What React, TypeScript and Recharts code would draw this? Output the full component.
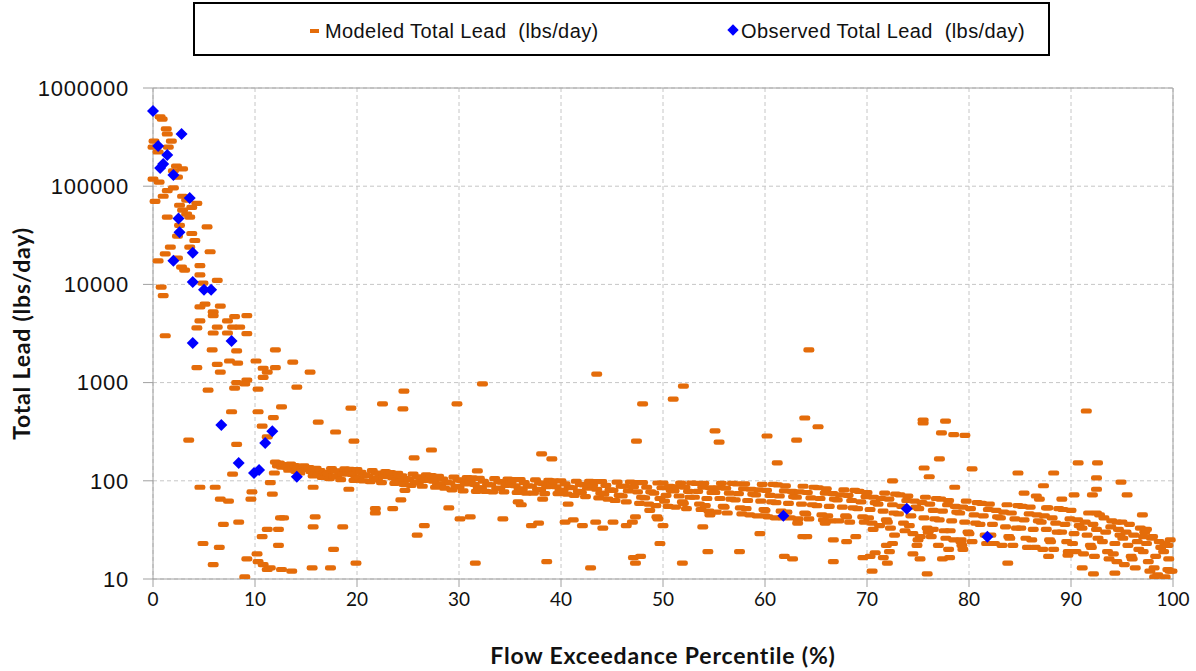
import { CartesianGrid, ReferenceLine, Scatter, ScatterChart, XAxis, YAxis } from 'recharts';

// Flow duration scatter: modeled vs observed total lead load (log scale)

const ORANGE = '#E46C0A';
const BLUE = '#0000FF';
const GRID = '#C6C6C6';
const AXIS = '#A0A0A0';

const X_TICKS = [0, 10, 20, 30, 40, 50, 60, 70, 80, 90, 100];
const Y_TICKS = [10, 100, 1000, 10000, 100000, 1000000];

// Observed samples [percentile, lbs/day]
const observedLoad: [number, number][] = [
  [0, 583000], [2.8, 340000], [0.5, 257000], [1.4, 208000], [1.0, 168000], [0.7, 153000],
  [2.0, 130000], [3.6, 76000], [2.5, 47000], [2.6, 34000], [3.9, 21000], [2.0, 17400],
  [3.9, 10600], [5.0, 8800], [5.7, 8800], [3.9, 2530], [7.7, 2650], [6.7, 370],
  [11.7, 320], [11.0, 243], [8.4, 152], [9.9, 120], [10.4, 129], [14.1, 110],
  [61.8, 44], [73.9, 52], [81.8, 27],
];

// Modeled: high-flow head (0-16 %)
const modeledHead: [number, number][] = [
  [0.7, 507000], [0.9, 483000], [1.3, 383000], [1.4, 340000], [0.1, 288000], [1.8, 288000],
  [0, 250000], [1.5, 250000], [0.5, 223000], [2.3, 160000], [2.9, 150000], [2.0, 143000],
  [0, 118000], [0.6, 110000], [2.4, 124000], [2.0, 96000], [1.4, 90000], [0.2, 70000],
  [1.0, 79000], [2.9, 79000], [3.3, 72000], [4.3, 67000], [2.6, 64000], [3.8, 61000],
  [1.4, 48500], [2.9, 57000], [3.3, 52000], [3.6, 48500], [2.6, 40000], [5.3, 38500],
  [2.4, 31000], [3.8, 33000], [4.1, 28000], [1.7, 24000], [3.6, 24000], [1.2, 20500],
  [5.6, 21500], [0.5, 17400], [2.4, 18500], [2.8, 15000], [4.6, 15500], [3.1, 14000],
  [4.6, 12500], [6.3, 11000], [0.8, 9400], [1.0, 7700], [4.9, 10300], [5.3, 8800],
  [5.1, 6300], [6.6, 6000], [4.6, 5900], [5.9, 5240], [8.0, 4700], [9.2, 4800],
  [7.3, 4260], [4.6, 4260], [5.9, 4800], [6.3, 3680], [7.8, 3680], [8.5, 3680],
  [4.3, 3600], [5.9, 3200], [7.3, 3200], [9.2, 3150], [1.2, 3000], [8.2, 2100],
  [5.8, 2150], [12.0, 2150], [7.5, 1660], [8.3, 1580], [10.1, 1660], [13.7, 1620],
  [4.3, 1420], [6.3, 1530], [10.8, 1400], [11.2, 1280], [12.0, 1420], [6.6, 1280],
  [15.4, 1280], [10.8, 1130], [9.2, 1060], [8.2, 1000], [9.0, 970], [8.0, 880],
  [10.3, 860], [14.1, 900], [5.4, 840], [12.6, 565], [7.7, 505], [10.3, 505],
  [11.8, 440], [10.7, 360], [16.2, 395], [3.5, 260], [8.2, 235], [11.2, 280],
  [7.8, 117], [11.9, 120], [11.5, 96], [4.6, 86], [6.1, 86], [15.7, 86],
  [9.7, 77], [6.6, 65], [7.4, 62], [9.6, 65], [11.7, 73], [15.9, 43],
  [12.5, 42], [12.8, 42], [15.7, 34], [8.4, 38], [6.9, 36], [11.2, 32],
  [12.3, 32], [10.7, 27], [4.9, 23], [12.3, 22], [6.5, 21], [5.9, 14],
  [10.2, 18], [9.2, 16], [10.3, 15], [10.8, 14], [11.5, 13], [12.6, 12.5],
  [13.6, 12], [15.6, 13], [9.0, 10.5], [11.2, 12.5],
];

// Modeled: main band 12-50 %
const modeledBandA: [number, number][] = [
  [12, 155], [12.2, 142], [12.4, 151], [12.6, 138], [12.8, 146],
  [13.1, 138], [13.3, 128], [13.5, 148], [13.7, 133], [13.9, 143],
  [14, 125], [14.2, 136], [14.4, 120], [14.6, 131], [14.8, 142],
  [15.1, 130], [15.3, 136], [15.5, 124], [15.7, 112], [15.9, 118],
  [16, 134], [16.2, 114], [16.4, 127], [16.6, 108], [16.8, 121],
  [17.1, 119], [17.3, 105], [17.5, 133], [17.7, 112], [17.9, 126],
  [18, 110], [18.2, 125], [18.4, 103], [18.6, 117], [18.8, 132],
  [19.1, 123], [19.3, 131], [19.5, 116], [19.7, 101], [19.9, 108],
  [20, 130], [20.2, 107], [20.4, 122], [20.6, 100], [20.8, 115],
  [21.1, 112], [21.3, 98], [21.5, 127], [21.7, 105], [21.9, 120],
  [22, 103], [22.2, 117], [22.4, 96], [22.6, 110], [22.8, 124],
  [23.1, 114], [23.3, 121], [23.5, 107], [23.7, 94], [23.9, 101],
  [24, 119], [24.2, 99], [24.4, 112], [24.6, 92], [24.8, 105],
  [25.1, 103], [25.3, 90], [25.5, 117], [25.7, 97], [25.9, 110],
  [26, 95], [26.2, 108], [26.4, 88], [26.6, 101], [26.8, 115],
  [27.1, 106], [27.3, 113], [27.5, 99], [27.7, 86], [27.9, 93],
  [28, 111], [28.2, 91], [28.4, 104], [28.6, 84], [28.8, 97],
  [29.1, 95], [29.3, 81], [29.5, 109], [29.7, 88], [29.9, 102],
  [30, 86], [30.2, 101], [30.4, 79], [30.6, 93], [30.8, 108],
  [31.1, 100], [31.3, 107], [31.5, 92], [31.7, 78], [31.9, 85],
  [32, 106], [32.2, 85], [32.4, 99], [32.6, 78], [32.8, 92],
  [33.1, 91], [33.3, 77], [33.5, 105], [33.7, 84], [33.9, 98],
  [34, 84], [34.2, 97], [34.4, 77], [34.6, 90], [34.8, 104],
  [35.1, 96], [35.3, 103], [35.5, 89], [35.7, 76], [35.9, 83],
  [36, 103], [36.2, 82], [36.4, 96], [36.6, 75], [36.8, 89],
  [37.1, 88], [37.3, 75], [37.5, 102], [37.7, 82], [37.9, 95],
  [38, 81], [38.2, 94], [38.4, 74], [38.6, 87], [38.8, 101],
  [39.1, 93], [39.3, 100], [39.5, 87], [39.7, 74], [39.9, 80],
  [40, 100], [40.2, 80], [40.4, 93], [40.6, 73], [40.8, 86],
  [41.1, 85], [41.3, 71], [41.5, 99], [41.7, 78], [41.9, 92],
  [42, 76], [42.2, 91], [42.4, 69], [42.6, 84], [42.8, 99],
  [43.1, 90], [43.3, 98], [43.5, 82], [43.7, 67], [43.9, 75],
  [44, 98], [44.2, 73], [44.4, 90], [44.6, 65], [44.8, 81],
  [45.1, 80], [45.3, 63], [45.5, 97], [45.7, 71], [45.9, 88],
  [46, 70], [46.2, 88], [46.4, 61], [46.6, 79], [46.8, 97],
  [47.1, 87], [47.3, 96], [47.5, 77], [47.7, 59], [47.9, 68],
  [48, 96], [48.2, 67], [48.4, 86], [48.6, 58], [48.8, 77],
  [49.1, 75], [49.3, 56], [49.5, 95], [49.7, 66], [49.9, 85],
];

// Modeled: main band 50-100 %
const modeledBandB: [number, number][] = [
  [50, 95], [50.15, 62], [50.3, 71], [50.5, 55], [50.65, 88], [50.8, 80],
  [51.08, 79], [51.23, 54], [51.4, 87], [51.58, 70], [51.73, 95], [51.9, 61],
  [52, 59], [52.15, 86], [52.3, 52], [52.5, 78], [52.65, 68], [52.8, 95],
  [53.08, 68], [53.23, 94], [53.4, 78], [53.58, 58], [53.73, 51], [53.9, 86],
  [54, 94], [54.15, 56], [54.3, 66], [54.5, 49], [54.65, 85], [54.8, 76],
  [55.08, 76], [55.23, 48], [55.4, 85], [55.58, 66], [55.73, 94], [55.9, 55],
  [56, 54], [56.15, 84], [56.3, 47], [56.5, 75], [56.65, 65], [56.8, 94],
  [57.08, 64], [57.23, 93], [57.4, 74], [57.58, 53], [57.73, 46], [57.9, 83],
  [58, 93], [58.15, 52], [58.3, 63], [58.5, 45], [58.65, 82], [58.8, 73],
  [59.08, 72], [59.23, 44], [59.4, 81], [59.58, 62], [59.73, 92], [59.9, 51],
  [60, 50], [60.15, 80], [60.3, 43], [60.5, 71], [60.65, 61], [60.8, 92],
  [61.08, 60], [61.23, 91], [61.4, 70], [61.58, 49], [61.73, 42], [61.9, 79],
  [62, 89], [62.15, 48], [62.3, 59], [62.5, 42], [62.65, 78], [62.8, 69],
  [63.08, 68], [63.23, 41], [63.4, 77], [63.58, 58], [63.73, 88], [63.9, 47],
  [64, 46], [64.15, 76], [64.3, 41], [64.5, 67], [64.65, 57], [64.8, 86],
  [65.08, 56], [65.23, 85], [65.4, 66], [65.58, 45], [65.73, 40], [65.9, 75],
  [66, 83], [66.15, 44], [66.3, 55], [66.5, 39], [66.65, 74], [66.8, 65],
  [67.08, 64], [67.23, 39], [67.4, 72], [67.58, 54], [67.73, 81], [67.9, 44],
  [68, 43], [68.15, 71], [68.3, 38], [68.5, 63], [68.65, 53], [68.8, 80],
  [69.08, 52], [69.23, 78], [69.4, 61], [69.58, 43], [69.73, 38], [69.9, 69],
  [70, 76], [70.15, 42], [70.3, 51], [70.5, 37], [70.65, 68], [70.8, 60],
  [71.08, 58], [71.23, 35], [71.4, 66], [71.58, 49], [71.73, 75], [71.9, 40],
  [72, 38], [72.15, 65], [72.3, 33], [72.5, 57], [72.65, 47], [72.8, 73],
  [73.08, 46], [73.23, 72], [73.4, 55], [73.58, 37], [73.73, 31], [73.9, 63],
  [74, 70], [74.15, 35], [74.3, 44], [74.5, 29], [74.65, 62], [74.8, 54],
  [75.08, 52], [75.23, 27], [75.4, 60], [75.58, 42], [75.73, 68], [75.9, 33],
  [76, 32], [76.15, 58], [76.3, 27], [76.5, 50], [76.65, 41], [76.8, 66],
  [77.08, 40], [77.23, 65], [77.4, 49], [77.58, 31], [77.73, 26], [77.9, 57],
  [78, 63], [78.15, 31], [78.3, 39], [78.5, 25], [78.65, 55], [78.8, 48],
  [79.08, 47], [79.23, 25], [79.4, 54], [79.58, 38], [79.73, 62], [79.9, 30],
  [80, 29], [80.15, 52], [80.3, 24], [80.5, 45], [80.65, 37], [80.8, 60],
  [81.08, 36], [81.23, 59], [81.4, 44], [81.58, 28], [81.73, 23], [81.9, 51],
  [82, 58], [82.15, 28], [82.3, 36], [82.5, 23], [82.65, 50], [82.8, 43],
  [83.08, 42], [83.23, 22], [83.4, 48], [83.58, 34], [83.73, 57], [83.9, 27],
  [84, 26], [84.15, 47], [84.3, 22], [84.5, 41], [84.65, 33], [84.8, 56],
  [85.08, 33], [85.23, 55], [85.4, 40], [85.58, 26], [85.73, 21], [85.9, 46],
  [86, 54], [86.15, 25], [86.3, 32], [86.5, 21], [86.65, 45], [86.8, 39],
  [87.08, 38], [87.23, 20], [87.4, 44], [87.58, 32], [87.73, 53], [87.9, 25],
  [88, 24], [88.15, 42], [88.3, 20], [88.5, 37], [88.65, 30], [88.8, 52],
  [89.08, 30], [89.23, 51], [89.4, 36], [89.58, 24], [89.73, 19], [89.9, 41],
  [90, 50], [90.15, 23], [90.3, 29], [90.5, 19], [90.65, 40], [90.8, 35],
  [91.08, 33], [91.23, 18], [91.4, 38], [91.58, 28], [91.73, 47], [91.9, 22],
  [92, 21], [92.15, 36], [92.3, 17], [92.5, 32], [92.65, 26], [92.8, 45],
  [93.08, 24], [93.23, 42], [93.4, 30], [93.58, 19], [93.73, 16], [93.9, 34],
  [94, 39], [94.15, 18], [94.3, 23], [94.5, 15], [94.65, 32], [94.8, 28],
  [95.08, 26], [95.23, 14], [95.4, 30], [95.58, 22], [95.73, 36], [95.9, 17],
  [96, 16], [96.15, 28], [96.3, 13], [96.5, 24], [96.65, 20], [96.8, 33],
  [97.08, 19], [97.23, 30], [97.4, 23], [97.58, 15], [97.73, 12], [97.9, 26],
  [98, 27], [98.15, 13], [98.3, 17], [98.5, 11], [98.65, 24], [98.8, 21],
  [99.08, 19], [99.23, 10.5], [99.4, 22], [99.58, 16], [99.73, 25], [99.9, 12],
];

// Modeled: scattered outliers above / below the band
const modeledScatter: [number, number][] = [
  [17.9, 314], [19.4, 550], [19.7, 254], [24.6, 820], [22.5, 606], [24.5, 540], [29.8, 606],
  [32.3, 970], [27.3, 206], [25.6, 171], [31.8, 126], [38.1, 188], [39.1, 167], [43.5, 1220],
  [19.2, 82], [18.6, 34], [17.7, 20], [17.4, 13], [19.9, 14.5], [21.8, 52], [21.8, 47],
  [23.5, 52], [24.7, 80], [24.3, 64], [29.0, 53], [25.9, 28], [26.6, 35], [30.1, 41],
  [31.1, 43], [31.6, 14.5], [34.3, 41], [35.8, 61], [36.1, 57], [38.2, 65], [37.1, 35],
  [37.8, 37], [38.6, 15], [40.7, 58], [40.4, 38], [41.2, 40], [42.1, 35], [43.4, 38],
  [42.9, 13], [52.0, 920], [51.0, 680], [48.0, 606], [64.3, 2150], [47.4, 254], [55.1, 322],
  [55.5, 248], [60.2, 286], [63.9, 436], [65.2, 355], [63.1, 260], [61.2, 152], [72.5, 100],
  [44.1, 33], [45.1, 38], [47.0, 38], [47.3, 43], [46.4, 35], [48.7, 50], [49.4, 43],
  [49.5, 41], [50.0, 35], [49.7, 23], [47.1, 16.5], [47.8, 17], [47.3, 14.5], [51.9, 14.5],
  [53.9, 34], [54.6, 45], [54.4, 19], [57.5, 19], [59.5, 29], [60.0, 44], [61.0, 42],
  [61.9, 17], [62.7, 16], [63.2, 37], [63.7, 27], [64.1, 27], [66.7, 25], [68.0, 24],
  [66.7, 15], [65.9, 37], [68.9, 27], [69.6, 16.5], [70.8, 18.5], [70.3, 17], [70.5, 12],
  [70.6, 32], [71.6, 16.5], [72.0, 14.5], [72.2, 19], [71.9, 22], [72.7, 28], [72.5, 23],
  [75.5, 416], [75.5, 388], [77.7, 405], [77.3, 307], [78.5, 295], [79.6, 290], [91.5, 514],
  [77.1, 167], [75.6, 135], [76.1, 110], [80.3, 132], [78.6, 86], [84.8, 120], [88.3, 120],
  [90.7, 152], [92.6, 152], [92.5, 107], [92.5, 82], [94.9, 97], [85.4, 75], [87.3, 89],
  [90.3, 72], [92.1, 72], [95.5, 72], [86.6, 70], [86.9, 65], [89.1, 65], [87.6, 53],
  [92.5, 47], [97.0, 45], [94.5, 38], [95.0, 38], [97.4, 32], [99.2, 23], [97.1, 27],
  [99.5, 12.5], [98.2, 10.5], [87.8, 17], [89.7, 17.5], [91.1, 13], [92.2, 11.3], [94.3, 11.5],
  [83.8, 14.5], [75.9, 11.3], [75.2, 16], [74.5, 18], [75.0, 25], [74.9, 22], [77.0, 22],
  [78.0, 20], [77.4, 16], [78.1, 16.5], [79.2, 24], [79.4, 20], [79.3, 22], [76.5, 32],
  [76.0, 30], [99.7, 12], [99.5, 22],
];

const toPoints = (rows: [number, number][]) => rows.map(([x, y]) => ({ x, y }));

const modeledPoints = toPoints([...modeledHead, ...modeledBandA, ...modeledBandB, ...modeledScatter]);
const observedPoints = toPoints(observedLoad);

function DashMarker(props: any) {
  const { cx, cy } = props;
  if (cx == null || cy == null) return null;
  return <rect x={cx - 5.5} y={cy - 2.6} width={11} height={5.2} rx={2.2} fill={ORANGE} />;
}

function DiamondMarker(props: any) {
  const { cx, cy } = props;
  if (cx == null || cy == null) return null;
  const r = 6;
  return (
    <polygon
      points={`${cx},${cy - r} ${cx + r},${cy} ${cx},${cy + r} ${cx - r},${cy}`}
      fill={BLUE}
    />
  );
}

const legendText: React.CSSProperties = {
  position: 'absolute',
  top: 16,
  fontFamily: "'Liberation Sans', Arial, sans-serif",
  fontSize: 20,
  letterSpacing: 0.4,
  color: '#111',
  whiteSpace: 'pre',
};

const titleStyle = {
  fill: '#111',
  fontSize: 23,
  fontWeight: 700,
  letterSpacing: 0.8,
  fontFamily: 'Lato, sans-serif',
};

export default function App() {
  return (
    <div style={{ position: 'absolute', left: 0, top: 0, width: 1196, height: 671, background: '#fff' }}>
      {/* Legend box */}
      <div
        style={{
          position: 'absolute',
          left: 193,
          top: 2,
          width: 857,
          height: 54,
          border: '2px solid #000',
          boxSizing: 'border-box',
        }}
      >
        <div style={{ position: 'absolute', left: 115, top: 25, width: 9, height: 4, background: ORANGE }} />
        <div style={{ ...legendText, left: 130 }}>{'Modeled Total Lead  (lbs/day)'}</div>
        <div
          style={{
            position: 'absolute',
            left: 534,
            top: 22,
            width: 8,
            height: 8,
            background: BLUE,
            transform: 'rotate(45deg)',
          }}
        />
        <div style={{ ...legendText, left: 546 }}>{'Observed Total Lead  (lbs/day)'}</div>
      </div>

      <ScatterChart width={1196} height={671} margin={{ top: 88, right: 23, bottom: 0, left: 0 }}>
        <CartesianGrid strokeDasharray="4 3" stroke={GRID} />
        <XAxis
          dataKey="x"
          type="number"
          domain={[0, 100]}
          ticks={X_TICKS}
          interval={0}
          height={92}
          tickSize={8}
          tickMargin={6}
          stroke={AXIS}
          tick={{ fill: '#111', fontSize: 19, fontFamily: 'Lato, sans-serif' }}
          label={{
            value: 'Flow Exceedance Percentile (%)',
            position: 'insideBottom',
            offset: 7,
            style: titleStyle,
          }}
        />
        <YAxis
          dataKey="y"
          type="number"
          scale="log"
          domain={[10, 1000000]}
          ticks={Y_TICKS}
          interval={0}
          allowDataOverflow
          width={153}
          tickSize={10}
          tickMargin={14}
          stroke={AXIS}
          tickFormatter={(v: number) => String(v)}
          tick={{
            fill: '#111',
            fontSize: 22,
            letterSpacing: 0.8,
            fontFamily: "'Liberation Sans', Arial, sans-serif",
          }}
          label={{
            value: 'Total Lead  (lbs/day)',
            angle: -90,
            position: 'insideLeft',
            offset: 22,
            style: { ...titleStyle, textAnchor: 'middle' },
          }}
        />
        <ReferenceLine y={1000000} stroke={AXIS} ifOverflow="visible" />
        <ReferenceLine x={100} stroke={AXIS} ifOverflow="visible" />
        <Scatter
          name="Modeled Total Lead  (lbs/day)"
          data={modeledPoints}
          shape={DashMarker}
          isAnimationActive={false}
        />
        <Scatter
          name="Observed Total Lead  (lbs/day)"
          data={observedPoints}
          shape={DiamondMarker}
          isAnimationActive={false}
        />
      </ScatterChart>
    </div>
  );
}
